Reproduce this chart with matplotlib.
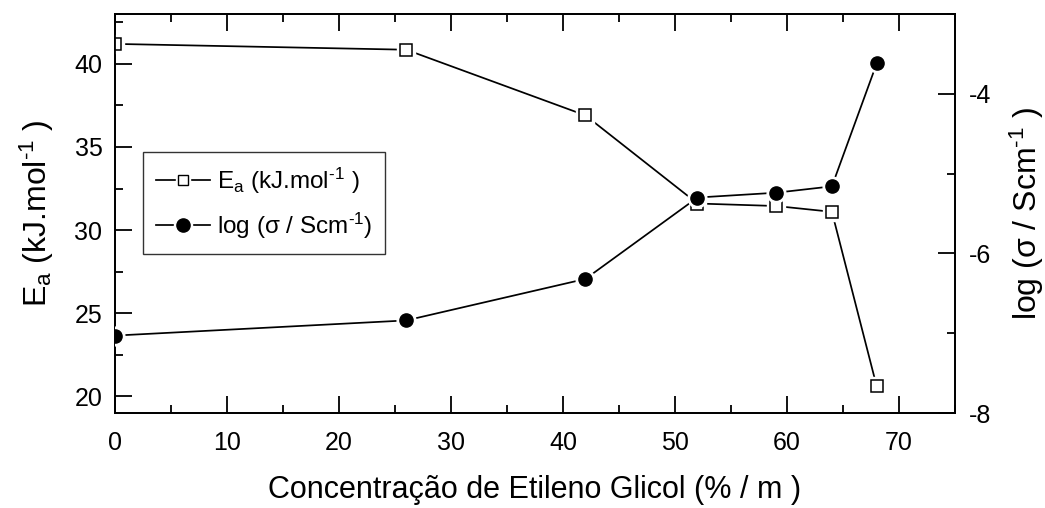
import numpy as np
import matplotlib.pyplot as plt
from matplotlib.ticker import MultipleLocator
from matplotlib.lines import Line2D
from matplotlib.legend_handler import HandlerTuple

plt.rcParams['font.family'] = ['Liberation Sans', 'DejaVu Sans']
plt.rcParams['mathtext.fontset'] = 'custom'
plt.rcParams['mathtext.rm'] = 'Liberation Sans'
plt.rcParams['mathtext.it'] = 'Liberation Sans'

# concentration of ethylene glycol (% m)
conc = [0, 26, 42, 52, 59, 64, 68]
# activation energy (kJ/mol)
ea = [41.2, 40.85, 36.9, 31.6, 31.45, 31.1, 20.6]
# log conductivity (S/cm)
log_sigma = [-7.03, -6.84, -6.32, -5.30, -5.24, -5.16, -3.62]

fig = plt.figure(figsize=(10.45, 5.08), dpi=100)
ax = fig.add_axes([0.110, 0.187, 0.804, 0.7855])
ax2 = ax.twinx()

lw = 1.25
sq_ms, sq_halo = 8.5, 12.5
ci_ms, ci_halo = 9.5, 13.5

# lines first, then white halos so the lines stop short of the symbols
ax.plot(conc, ea, color='black', lw=lw, zorder=2)
ax.plot(conc, ea, ls='none', marker='s', ms=sq_halo, mfc='white', mec='white', zorder=3)
ax.plot(conc, ea, ls='none', marker='s', ms=sq_ms, mfc='white', mec='black', mew=1.1, zorder=4)

ax2.plot(conc, log_sigma, color='black', lw=lw, zorder=2)
ax2.plot(conc, log_sigma, ls='none', marker='o', ms=ci_halo, mfc='white', mec='white', zorder=3)
ax2.plot(conc, log_sigma, ls='none', marker='o', ms=ci_ms, mfc='black', mec='black', zorder=4)

ax.set_xlim(0, 75)
ax.set_ylim(19, 43)
ax2.set_ylim(-8, -3)

ax.xaxis.set_major_locator(MultipleLocator(10))
ax.xaxis.set_minor_locator(MultipleLocator(5))
ax.yaxis.set_major_locator(MultipleLocator(5))
ax.yaxis.set_minor_locator(MultipleLocator(2.5))
ax2.yaxis.set_major_locator(MultipleLocator(2))
ax2.yaxis.set_minor_locator(MultipleLocator(1))

ax.tick_params(which='both', direction='in', top=True, labelsize=18, width=1.3)
ax.tick_params(axis='x', pad=13)
ax.tick_params(axis='y', pad=9)
ax.tick_params(which='major', length=12)
ax.tick_params(which='minor', length=6)
ax2.tick_params(which='both', direction='in', labelsize=18, width=1.3, pad=10)
ax2.tick_params(which='major', length=12)
ax2.tick_params(which='minor', length=6)
ax.set_yticks([20, 25, 30, 35, 40])
ax.set_yticklabels(['20', '25', '30', '35', '40'])
ax2.set_yticks([-8, -6, -4])
ax2.set_yticklabels(['-8', '-6', '-4'])

for a in (ax, ax2):
    for s in a.spines.values():
        s.set_linewidth(1.3)

# superscript -1 written with a plain hyphen
sup = '$^{\\mathrm{\u20101}}$'
ea_label = r'E$_{\mathrm{a}}$ (kJ.mol' + sup + ' )'
sigma_label = r'log ($\sigma$ / Scm' + sup + ')'

ax.set_xlabel('Concentração de Etileno Glicol (% / m )', fontsize=22, labelpad=14)
ax.set_ylabel(ea_label, fontsize=23, labelpad=13)
ax2.set_ylabel(r'log ($\sigma$ / Scm' + sup + ' )', fontsize=23, labelpad=12)

line_ea = Line2D([], [], color='black', lw=lw)
halo_ea = Line2D([], [], ls='none', marker='s', ms=10, mfc='white', mec='white')
mark_ea = Line2D([], [], ls='none', marker='s', ms=7, mfc='white', mec='black', mew=1.0)
line_sg = Line2D([], [], color='black', lw=lw)
halo_sg = Line2D([], [], ls='none', marker='o', ms=13, mfc='white', mec='white')
mark_sg = Line2D([], [], ls='none', marker='o', ms=9.5, mfc='black', mec='black')

leg = ax.legend([(line_ea, halo_ea, mark_ea), (line_sg, halo_sg, mark_sg)],
                [ea_label, sigma_label],
                handler_map={tuple: HandlerTuple(ndivide=1, pad=0)},
                loc='upper left', bbox_to_anchor=(0.033, 0.653), borderaxespad=0,
                fontsize=17.5, frameon=True, fancybox=False, edgecolor='black',
                handlelength=2.2, handletextpad=0.3, borderpad=0.55, labelspacing=0.6)
leg.get_frame().set_linewidth(1.0)

fig.savefig('out.png', dpi=100)
